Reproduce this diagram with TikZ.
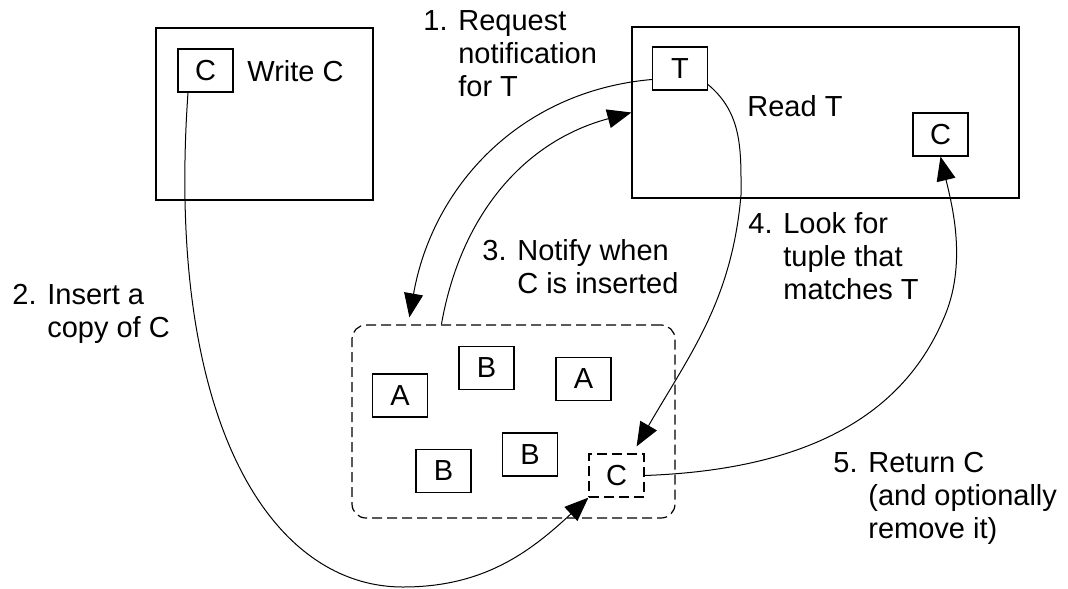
\documentclass[tikz,border=0pt]{standalone}
\usepackage{fontspec}
\setmainfont{Liberation Sans}
\usetikzlibrary{positioning}
\usetikzlibrary{arrows.meta}
\tikzset{
    tuple/.style = {rectangle, draw=black, line width=0.6pt, minimum width=27.5pt, minimum height=21.5pt, inner sep=0pt},
    tupled/.style = {tuple, dash pattern=on 5pt off 2.5pt},
    proc/.style = {rectangle, draw=black, line width=0.6pt, inner sep=0pt},
    pool/.style = {rectangle, rounded corners=7pt, draw=black, line width=0.6pt, dash pattern=on 5pt off 2.5pt, inner sep=0pt},
    steplabel/.style = {anchor=base west, inner sep=0pt},
    flow/.style = {-{Triangle[length=12pt,width=9.5pt]}, line width=0.5pt, black},
}
\newcommand{\stepno}[2]{\begin{tabular}[t]{@{}l@{ }l@{}}#1 & #2\end{tabular}}

\begin{document}
\begin{tikzpicture}[x=0.5pt, y=-0.5pt, font=\fontsize{14.5}{16.5}\selectfont]
  \useasboundingbox (0,0) rectangle (1068,588);

  % processes
  \node[proc, minimum width=108.5pt, minimum height=86pt] (writer) at (264.5,114) {};
  \node[proc, minimum width=193.5pt, minimum height=85.5pt] (reader) at (825.5,112.5) {};
  \node[tuple] (cw) at (205.5,70.5) {C};
  \node[steplabel] (wlabel) at (247,82) {Write C};
  \node[tuple] (T) at (680,68.5) {T};
  \node[steplabel] (rlabel) at (747,117) {Read T};
  \node[tuple] (cr) at (940.5,134.5) {C};

  % tuple space
  \node[pool, minimum width=161.5pt, minimum height=96.5pt] (space) at (513.5,421.5) {};
  \node[tuple] (A1) at (400,395.5) {A};
  \node[tuple] (B1) at (486.5,368) {B};
  \node[tuple] (A2) at (583.5,379) {A};
  \node[tuple] (B2) at (443.5,471) {B};
  \node[tuple] (B3) at (530,454.5) {B};
  \node[tupled] (Cd) at (616.5,475.5) {C};

  % steps
  \node[steplabel] (s1) at (423,31) {\stepno{1.}{Request\\&notification\\&for T}};
  \node[steplabel] (s2) at (12,304) {\stepno{2.}{Insert a\\&copy of C}};
  \node[steplabel] (s3) at (482,260) {\stepno{3.}{Notify when\\&C is inserted}};
  \node[steplabel] (s4) at (748,233) {\stepno{4.}{Look for\\&tuple that\\&matches T}};
  \node[steplabel] (s5) at (833,472) {\stepno{5.}{Return C\\&(and optionally\\&remove it)}};

  \coordinate (reqend) at ([xshift=29pt,yshift=3.5pt]space.north west);
  \coordinate (notstart) at ([xshift=45pt]space.north west);

  \draw[flow] ([yshift=-5.5pt]T.west) to[out=185, in=80] (reqend);
  \draw[flow] (notstart) to[out=80, in=195] (reader.west);
  \draw[flow] ([xshift=-8.75pt]cw.south) .. controls (165,420) and (270,587) .. (403,587)
    to[out=0, in=223] (Cd.south west);
  \draw[flow] ([yshift=3pt]T.south east) to[out=-40, in=90] (741,195)
    to[out=-95, in=60] ([xshift=-4pt,yshift=3.5pt]Cd.north east);
  \draw[flow] (Cd.east) .. controls (800,470) and (900,420) .. (943,320)
    .. controls (968,265) and (952,205) .. (cr.south);
\end{tikzpicture}
\end{document}
